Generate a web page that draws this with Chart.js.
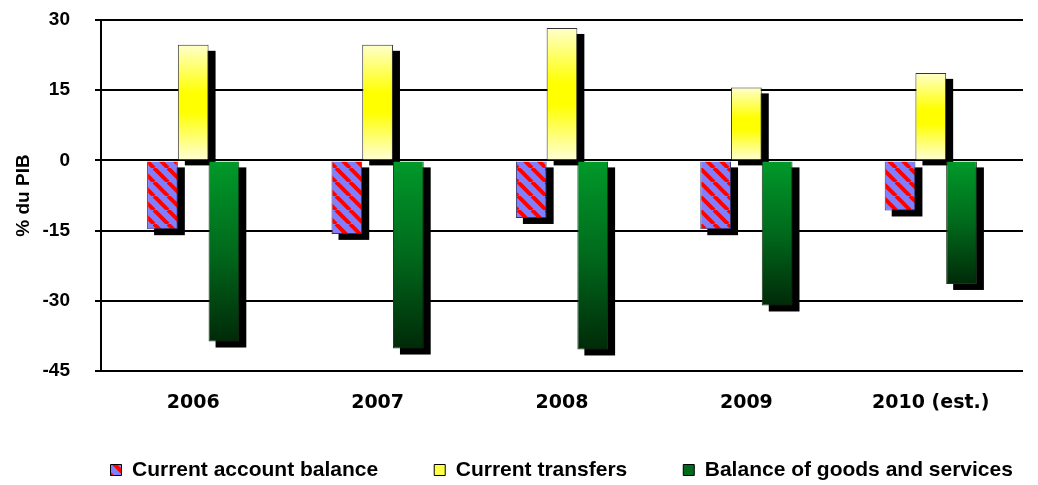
<!DOCTYPE html>
<html><head><meta charset="utf-8">
<script src="https://cdn.jsdelivr.net/npm/chart.js@4/dist/chart.umd.min.js"></script>
<style>html,body{margin:0;padding:0;background:#fff}#wrap{width:1038px;height:485px}</style>
</head><body><div id="wrap"><canvas id="c" width="1038" height="485"></canvas></div>
<script>
const categories = ['2006', '2007', '2008', '2009', '2010 (est.)'];
const currentAccount = [-14.7, -15.7, -12.3, -14.7, -10.7];
const currentTransfers = [24.7, 24.7, 28.3, 15.6, 18.7];
const goodsServices = [-38.7, -40.2, -40.4, -31.0, -26.4];
const seriesNames = ['Current account balance', 'Current transfers', 'Balance of goods and services'];
const yMin = -45, yMax = 30, yStep = 15;
const yTitle = '% du PIB';

function hatch() {
  const s = 14, cv = document.createElement('canvas');
  cv.width = s; cv.height = s;
  const g = cv.getContext('2d');
  g.fillStyle = '#8080FF'; g.fillRect(0, 0, s, s);
  g.strokeStyle = '#FF0000'; g.lineWidth = 4;
  for (let k = -1; k <= 1; k++) { g.beginPath(); g.moveTo(k * s, 0); g.lineTo(k * s + s, s); g.stroke(); }
  return document.getElementById('c').getContext('2d').createPattern(cv, 'repeat');
}
const hatchPattern = hatch();

function barGrad(ctx, stops, fallback) {
  const chart = ctx.chart;
  if (!chart.chartArea || ctx.type !== 'data') return fallback;
  const y = chart.scales.y, v = ctx.raw;
  const top = y.getPixelForValue(Math.max(v, 0)), bot = y.getPixelForValue(Math.min(v, 0));
  if (!isFinite(top) || !isFinite(bot) || top === bot) return fallback;
  const g = chart.ctx.createLinearGradient(0, top, 0, bot);
  stops.forEach(s => g.addColorStop(s[0], s[1]));
  return g;
}
const yellowStops = [[0, '#FFFFCC'], [0.42, '#FFFF00'], [0.58, '#FFFF00'], [1, '#FFFFD8']];
const greenStops = [[0, '#009A2A'], [0.5, '#006A1C'], [1, '#002A08']];

const shadowPlugin = {
  id: 'shadow',
  beforeDatasetsDraw(chart) {
    const c = chart.ctx; c.save(); c.fillStyle = '#000';
    chart.data.datasets.forEach((ds, i) => {
      const meta = chart.getDatasetMeta(i);
      if (meta.hidden) return;
      meta.data.forEach(el => {
        const p = el.getProps(['x', 'y', 'base', 'width'], true);
        const t = Math.min(p.y, p.base), h = Math.abs(p.base - p.y);
        c.fillRect(p.x - p.width / 2 + 7, t + 6, p.width, h);
      });
    });
    c.restore();
  }
};

const LEGEND_PAD = 56;
const legendShift = {
  id: 'legendShift',
  afterLayout(chart) {
    const lg = chart.legend; if (!lg) return;
    const dx = 132 - 21.5 - LEGEND_PAD, dy = -11.5;
    lg.left += dx; lg.right += dx;
    lg.top += dy;
  }
};

const legendFills = [hatchPattern, '#FFFF44', '#006A1C'];

new Chart(document.getElementById('c'), {
  type: 'bar',
  data: {
    labels: categories,
    datasets: [
      { label: seriesNames[0], data: currentAccount, backgroundColor: hatchPattern, borderColor: '#333366', borderWidth: 1 },
      { label: seriesNames[1], data: currentTransfers, backgroundColor: c => barGrad(c, yellowStops, '#FFFF44'), borderColor: '#333333', borderWidth: 1 },
      { label: seriesNames[2], data: goodsServices, backgroundColor: c => barGrad(c, greenStops, '#006A1C'), borderColor: '#1a331a', borderWidth: 1 }
    ]
  },
  options: {
    responsive: false,
    devicePixelRatio: 1,
    animation: false,
    layout: { padding: { top: 0, right: 15, left: 0, bottom: 0 } },
    datasets: { bar: { categoryPercentage: 0.5, barPercentage: 1.0 } },
    scales: {
      x: {
        grid: { display: false },
        border: { display: false },
        afterFit(s) { s.height = 44; },
        ticks: { color: '#000', font: { family: "'DejaVu Sans', sans-serif", weight: 'bold', size: 19 }, padding: 13 }
      },
      y: {
        min: yMin, max: yMax,
        afterFit(s) { s.width = 101; s.paddingTop = 20; s.paddingBottom = 10; },
        ticks: { stepSize: yStep, color: '#000', padding: 25, font: { family: "'Liberation Sans', Arial, sans-serif", weight: 'bold', size: 19 } },
        grid: { color: '#000', lineWidth: 2, tickLength: 6, drawTicks: true },
        border: { display: true, color: '#000', width: 2 },
        title: { display: true, text: yTitle, color: '#000', padding: { top: 12, bottom: 0 }, font: { family: "'Liberation Sans', Arial, sans-serif", weight: 'bold', size: 19 } }
      }
    },
    plugins: {
      tooltip: { enabled: false },
      legend: {
        position: 'bottom',
        align: 'start',
        maxHeight: 70,
        labels: {
          boxWidth: 11, boxHeight: 11, padding: LEGEND_PAD, color: '#000',
          font: { family: "'Liberation Sans', Arial, sans-serif", weight: 'bold', size: 21 },
          generateLabels(chart) {
            return chart.data.datasets.map((ds, i) => ({
              text: ds.label, fillStyle: legendFills[i], strokeStyle: '#000', lineWidth: 1,
              hidden: false, datasetIndex: i, fontColor: '#000'
            }));
          }
        }
      }
    }
  },
  plugins: [shadowPlugin, legendShift]
});
</script></body></html>
